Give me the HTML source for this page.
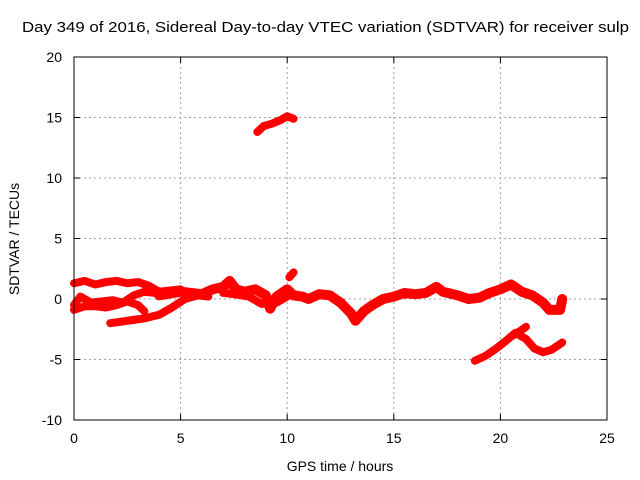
<!DOCTYPE html>
<html><head><meta charset="utf-8"><style>
body{margin:0;background:#fff}
svg{display:block;font-family:"Liberation Sans",sans-serif;font-size:14px}
</style></head><body>
<svg id="chart" width="640" height="480">
<rect width="640" height="480" fill="#fff"/>
<text x="22" y="32" textLength="607" lengthAdjust="spacingAndGlyphs" font-size="15">Day 349 of 2016, Sidereal Day-to-day VTEC variation (SDTVAR) for receiver sulp</text>
<text x="340" y="471" text-anchor="middle">GPS time / hours</text>
<text transform="translate(19,239) rotate(-90)" text-anchor="middle">SDTVAR / TECUs</text>
<g id="grid"></g><g id="ticks"></g><g id="series"></g>
<rect x="74" y="57" width="533" height="363" fill="none" stroke="#000" stroke-width="1"/>
</svg>
<script>
const xTicks=[0,5,10,15,20,25];
const yTicks=[-10,-5,0,5,10,15,20];
const trackTopLeft=[[0,1.3],[0.5,1.5],[1,1.2],[1.5,1.4],[2,1.5],[2.5,1.3],[3,1.4],[3.5,1.1],[4,0.6],[4.5,0.7],[5,0.8]];
const trackMidLeft=[[0,-0.5],[0.3,0.2],[0.8,-0.3],[1.3,-0.2],[1.8,-0.1],[2.3,-0.3],[2.8,0.3],[3.3,0.6],[3.8,0.5],[4.3,0.3],[4.8,0.6]];
const trackLowLeft=[[0,-0.9],[0.5,-0.6],[1,-0.6],[1.5,-0.7],[2,-0.5],[2.5,-0.2],[3,-0.5],[3.3,-1.0]];
const trackLower=[[1.7,-2.0],[2.5,-1.8],[3.3,-1.6],[4,-1.3],[4.6,-0.7],[5.2,0],[5.8,0.3],[6.3,0.2]];
const trackMain=[[4,0.3],[5,0.6],[6,0.4],[6.5,0.8],[7,1.0],[7.3,1.5],[7.6,0.8],[8,0.6],[8.5,0.8],[9,0.3],[9.2,-0.8],[9.5,0.2],[10,0.8],[10.3,0.3],[10.7,0.2],[11,0],[11.5,0.4],[12,0.3],[12.5,-0.3],[13,-1.2],[13.2,-1.8],[13.6,-1.0],[14,-0.5],[14.5,0],[15,0.2],[15.5,0.5],[16,0.4],[16.5,0.5],[17,1.0],[17.3,0.6],[18,0.3],[18.5,0],[19,0.1],[19.5,0.5],[20,0.8],[20.5,1.2],[21,0.6],[21.5,0.3],[22,-0.3],[22.3,-0.9],[22.8,-0.9],[22.9,0]];
const trackSide=[[7,0.5],[7.5,0.4],[8.2,0.2],[8.8,-0.4],[9.5,-0.3],[10,0.2]];
const trackSpike=[[10.1,1.8],[10.3,2.2]];
const trackHigh=[[8.6,13.8],[8.9,14.3],[9.3,14.5],[9.7,14.8],[10,15.1],[10.3,14.9]];
const trackNeg=[[18.8,-5.1],[19.3,-4.7],[19.8,-4.1],[20.3,-3.4],[20.7,-2.8],[21.2,-3.3],[21.6,-4.1],[22,-4.4],[22.4,-4.2],[22.9,-3.6]];
const trackNeg2=[[20.5,-3.1],[20.8,-2.8],[21.2,-2.3]];
const allTracks=[trackTopLeft,trackMidLeft,trackLowLeft,trackLower,trackMain,trackSide,trackSpike,trackHigh,trackNeg,trackNeg2];
const NS="http://www.w3.org/2000/svg";
const X=v=>74+v*(533/25), Y=v=>420-(v+10)*(363/30);
function mk(t,a,p){const e=document.createElementNS(NS,t);for(const k in a)e.setAttribute(k,a[k]);p.appendChild(e);return e;}
const grid=document.getElementById('grid'),ticks=document.getElementById('ticks'),ser=document.getElementById('series');
xTicks.forEach(t=>{
 if(t>0&&t<25){const l=mk('line',{x1:X(t),x2:X(t),y1:57,y2:420,stroke:'#a0a0a0','stroke-dasharray':'2,3'},grid);
 }
 const tx=mk('text',{x:X(t),y:443,'text-anchor':'middle'},ticks);tx.textContent=t;
 
 mk('line',{x1:X(t),x2:X(t),y1:420,y2:414,stroke:'#000'},ticks);mk('line',{x1:X(t),x2:X(t),y1:57,y2:63,stroke:'#000'},ticks);
});
yTicks.forEach(t=>{
 if(t>-10&&t<20){const l=mk('line',{x1:74,x2:607,y1:Y(t),y2:Y(t),stroke:'#a0a0a0','stroke-dasharray':'2,3'},grid);
 }
 const tx=mk('text',{x:62,y:Y(t)+5,'text-anchor':'end'},ticks);tx.textContent=t;
 
 mk('line',{x1:74,x2:80,y1:Y(t),y2:Y(t),stroke:'#000'},ticks);mk('line',{x1:601,x2:607,y1:Y(t),y2:Y(t),stroke:'#000'},ticks);
});
allTracks.forEach(tr=>{
 const p=mk('polyline',{points:tr.map(d=>X(d[0])+','+Y(d[1])).join(' '),fill:'none',stroke:'#f00','stroke-width':(tr===trackMain?10:8),'stroke-linejoin':'round','stroke-linecap':'round'},ser);
 
 
});
</script>
</body></html>
